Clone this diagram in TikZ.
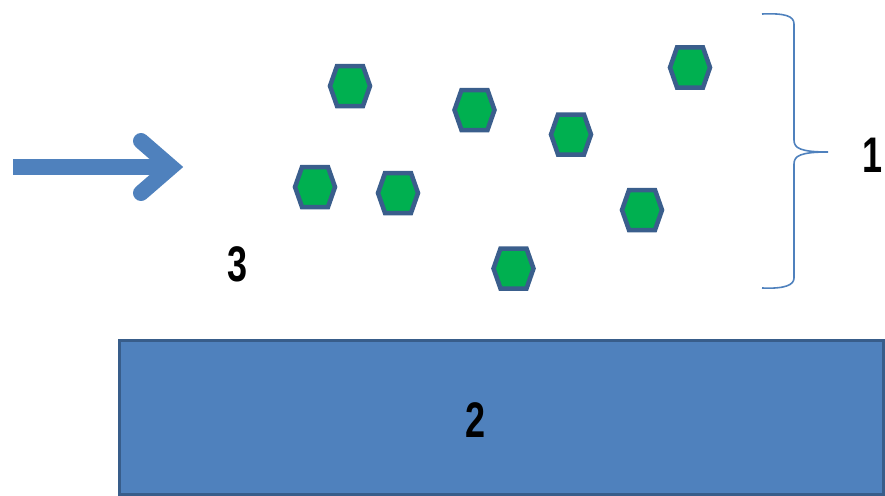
\documentclass[tikz,border=0pt]{standalone}
\usepackage{fontspec}
\setmainfont{Liberation Sans}
\definecolor{boxfill}{HTML}{4F81BD}
\definecolor{boxline}{HTML}{385D8A}
\definecolor{hexfill}{HTML}{00B050}
\definecolor{hexline}{HTML}{3A5E8C}
\tikzset{
  hexa/.pic={\draw[draw=hexline,fill=hexfill,line width=4.5pt,line join=miter]
     (-20,0) -- (-13,-20) -- (13,-20) -- (20,0) -- (13,20) -- (-13,20) -- cycle;},
  lbl/.style={font=\bfseries\fontsize{50}{50}\selectfont,xscale=0.72,inner sep=0pt},
}
\begin{document}
\begin{tikzpicture}[x=1pt,y=-1pt]
\useasboundingbox (0,0) rectangle (885,495);
% substrate
\node[draw=boxline,fill=boxfill,line width=3pt,minimum width=764pt,minimum height=154pt,inner sep=0pt,anchor=north west] (sub) at (118,339) {};
\node[lbl] (two) at (476,420) {2};
% arrow
\coordinate (a0) at (13,167);
\coordinate (a1) at (171,167);
\draw[boxfill,line width=16pt] (a0) -- (a1);
\coordinate (h1) at (141,141);
\coordinate (h2) at (141,193);
\draw[boxfill,line width=16pt,line cap=round,line join=miter] (h1) -- (a1) -- (h2);
% particles
\pic at (350,86) {hexa};
\pic at (474.5,110) {hexa};
\pic at (571,134.5) {hexa};
\pic at (690,67.5) {hexa};
\pic at (315,187) {hexa};
\pic at (398,193) {hexa};
\pic at (642,210) {hexa};
\pic at (513.5,268.5) {hexa};
% brace
\coordinate (bt) at (762,14);
\coordinate (bb) at (762,288);
\coordinate (bm) at (828,152);
\draw[boxfill,line width=1.6pt]
  (bt) .. controls (785,13) and (794,16) .. (794,24)
  -- (794,140) .. controls (794,148) and (800,152) .. (bm)
  (bm) .. controls (800,152) and (794,156) .. (794,164)
  -- (794,278) .. controls (794,285) and (785,289) .. (bb);
\node[lbl,anchor=east] (one) at (883,155) {1};
\node[lbl] (three) at (238,264) {3};
\end{tikzpicture}
\end{document}
